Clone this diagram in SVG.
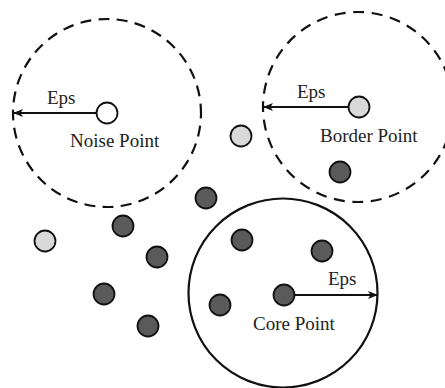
<svg xmlns="http://www.w3.org/2000/svg" width="445" height="388" viewBox="0 0 445 388">
  <style>
    .eps-dashed { fill: none; stroke: #111; stroke-width: 2.2; stroke-dasharray: 11 7.3; stroke-dashoffset: 5.5; }
    .eps-solid { fill: none; stroke: #111; stroke-width: 2.2; }
    .pt { stroke: #111; stroke-width: 1.8; }
    .core { fill: #5a5a5a; }
    .border { fill: #d9d9d9; }
    .noise { fill: #ffffff; }
    .label { font-family: "Liberation Serif", "DejaVu Serif", serif; font-size: 19px; fill: #222; }
    .radius { stroke: #111; stroke-width: 1.8; fill: none; marker-end: url(#head); }
  </style>
  <defs>
    <marker id="head" viewBox="0 0 10 8" refX="9" refY="4" markerWidth="10" markerHeight="8" markerUnits="userSpaceOnUse" orient="auto">
      <path d="M0,0 L10,4 L0,8 L2.5,4 Z" fill="#111"/>
    </marker>
  </defs>

  <rect width="445" height="388" fill="#ffffff"/>

  <!-- Eps neighbourhoods -->
  <g id="noise-neighbourhood">
    <circle class="eps-dashed" cx="107" cy="113" r="94"/>
  </g>
  <g id="border-neighbourhood">
    <circle class="eps-dashed" cx="358" cy="107" r="95" style="stroke-dasharray: 11 7.65;"/>
  </g>
  <g id="core-neighbourhood">
    <circle class="eps-solid" cx="283" cy="293" r="94.5"/>
  </g>

  <!-- radius arrows -->
  <g id="connectors">
    <line class="radius" x1="97" y1="113" x2="14" y2="113"/>
    <line class="radius" x1="348" y1="107" x2="264" y2="107"/>
    <line class="radius" x1="295" y1="295" x2="377" y2="295"/>
  </g>

  <!-- points -->
  <g id="noise-point">
    <circle class="pt noise" cx="107" cy="113" r="10.5"/>
    <text class="label" x="47" y="104">Eps</text>
    <text class="label" x="70" y="147">Noise Point</text>
  </g>
  <g id="border-point">
    <circle class="pt border" cx="359" cy="107" r="10.5"/>
    <text class="label" x="297" y="98">Eps</text>
    <text class="label" x="320" y="142">Border Point</text>
  </g>
  <g id="core-point">
    <circle class="pt core" cx="284" cy="295" r="10.5"/>
    <text class="label" x="328" y="285">Eps</text>
    <text class="label" x="253" y="330">Core Point</text>
  </g>
  <g id="p-light-1"><circle class="pt border" cx="241" cy="136" r="10.5"/></g>
  <g id="p-light-2"><circle class="pt border" cx="45" cy="241" r="10.5"/></g>
  <g id="p-dark-1"><circle class="pt core" cx="340" cy="172" r="10.5"/></g>
  <g id="p-dark-2"><circle class="pt core" cx="206" cy="198" r="10.5"/></g>
  <g id="p-dark-3"><circle class="pt core" cx="123" cy="226" r="10.5"/></g>
  <g id="p-dark-4"><circle class="pt core" cx="157" cy="257" r="10.5"/></g>
  <g id="p-dark-5"><circle class="pt core" cx="104" cy="294" r="10.5"/></g>
  <g id="p-dark-6"><circle class="pt core" cx="148" cy="326" r="10.5"/></g>
  <g id="p-dark-7"><circle class="pt core" cx="242" cy="240" r="10.5"/></g>
  <g id="p-dark-8"><circle class="pt core" cx="322" cy="251" r="10.5"/></g>
  <g id="p-dark-9"><circle class="pt core" cx="220" cy="305" r="10.5"/></g>
</svg>
